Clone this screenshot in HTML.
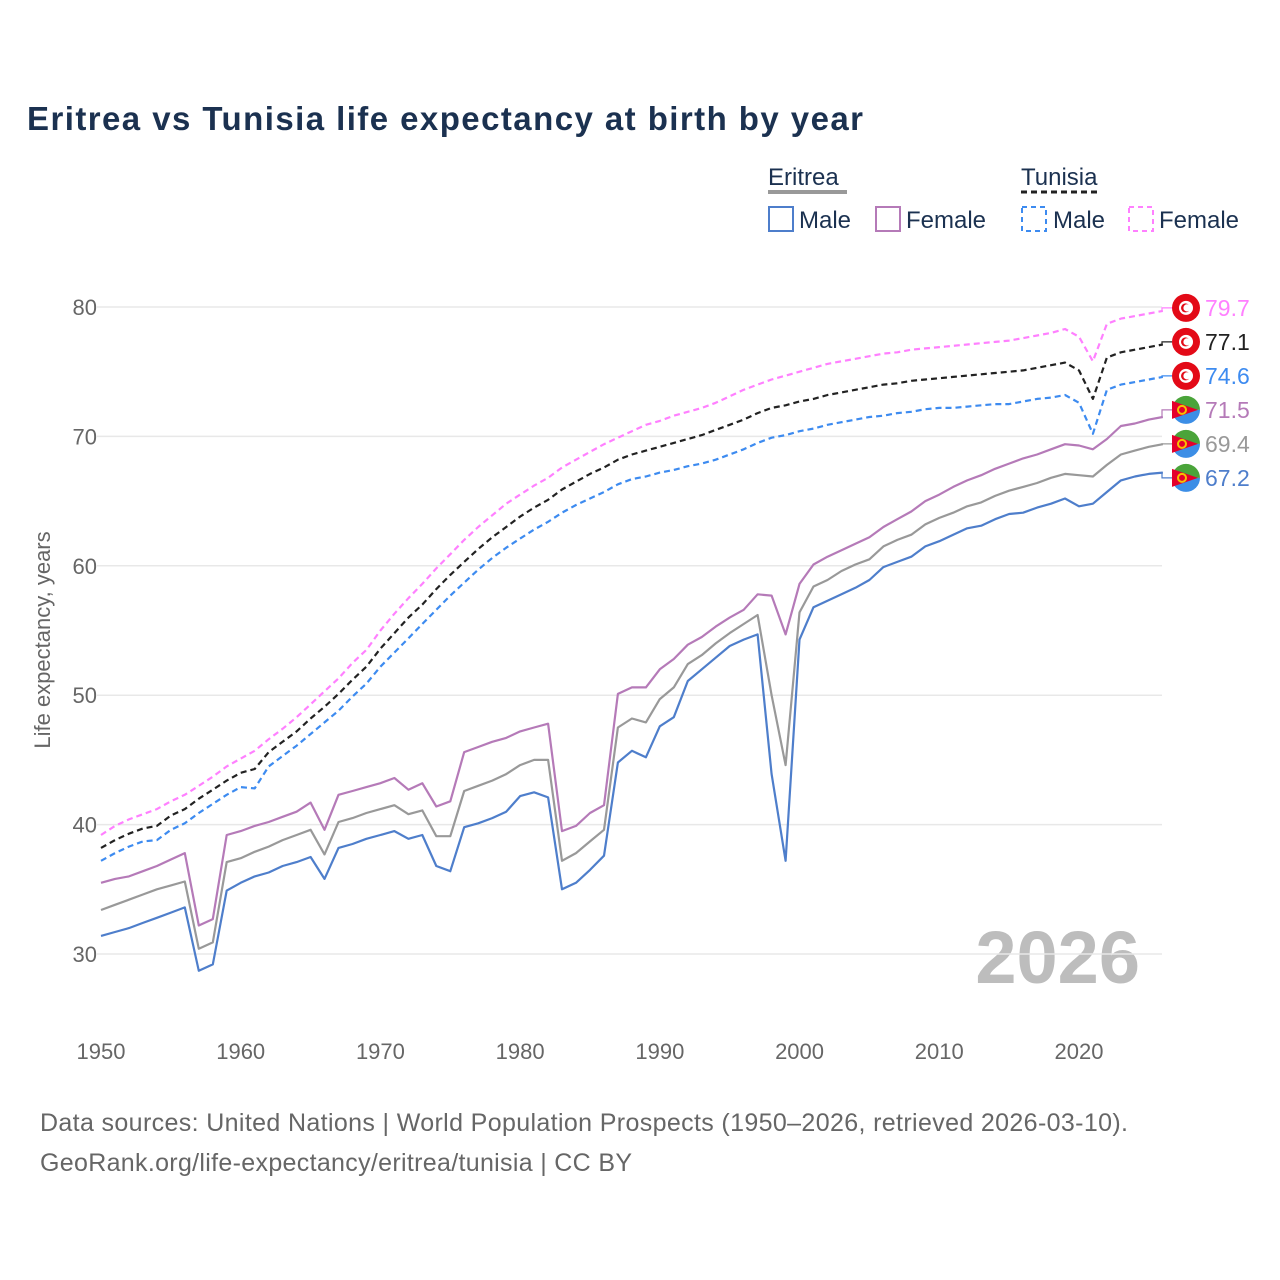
<!DOCTYPE html>
<html><head><meta charset="utf-8"><style>
body{margin:0;background:#fff;}
svg{display:block;font-family:"Liberation Sans",sans-serif;}
</style></head><body>
<svg id="chart" width="1280" height="1280" viewBox="0 0 1280 1280">
<text x="27" y="130" font-size="33" font-weight="bold" fill="#1b3150" textLength="836">Eritrea vs Tunisia life expectancy at birth by year</text>
<g>
<text x="768" y="185" font-size="24" fill="#1b3150">Eritrea</text>
<line x1="768" y1="192" x2="847" y2="192" stroke="#999" stroke-width="4"/>
<text x="1021" y="185" font-size="24" fill="#1b3150">Tunisia</text>
<line x1="1021" y1="192" x2="1101" y2="192" stroke="#222" stroke-width="3" stroke-dasharray="6,4"/>
<g><rect x="769" y="207" width="24" height="24" fill="none" stroke="#4e7ecb" stroke-width="2"/><text x="799" y="228" font-size="24" fill="#1b3150">Male</text></g>
<g><rect x="876" y="207" width="24" height="24" fill="none" stroke="#b57ab8" stroke-width="2"/><text x="906" y="228" font-size="24" fill="#1b3150">Female</text></g>
<g><rect x="1022" y="207" width="24" height="24" fill="none" stroke="#3d8bf0" stroke-width="2" stroke-dasharray="5,4"/><text x="1053" y="228" font-size="24" fill="#1b3150">Male</text></g>
<g><rect x="1129" y="207" width="24" height="24" fill="none" stroke="#ff80ff" stroke-width="2" stroke-dasharray="5,4"/><text x="1159" y="228" font-size="24" fill="#1b3150">Female</text></g>
</g>
<text x="1140" y="983" font-size="74" font-weight="bold" fill="#bdbdbd" text-anchor="end">2026</text>
<g id="grid"></g><g id="series"></g><g id="ends"></g>
<text transform="translate(50,640) rotate(-90)" font-size="22" fill="#666" text-anchor="middle">Life expectancy, years</text>
<text x="40" y="1131" font-size="25" fill="#666" textLength="1088">Data sources: United Nations | World Population Prospects (1950–2026, retrieved 2026-03-10).</text>
<text x="40" y="1171" font-size="25" fill="#666" textLength="592">GeoRank.org/life-expectancy/eritrea/tunisia | CC BY</text>
</svg>
<script>
const startYear = 1950;
const yTicks = [30,40,50,60,70,80];
const xTicks = [1950,1960,1970,1980,1990,2000,2010,2020];
const eritreaMale = [31.4,31.7,32.0,32.4,32.8,33.2,33.6,28.7,29.2,34.9,35.5,36.0,36.3,36.8,37.1,37.5,35.8,38.2,38.5,38.9,39.2,39.5,38.9,39.2,36.8,36.4,39.8,40.1,40.5,41.0,42.2,42.5,42.1,35.0,35.5,36.5,37.6,44.8,45.7,45.2,47.6,48.3,51.1,52.0,52.9,53.8,54.3,54.7,43.9,37.2,54.3,56.8,57.3,57.8,58.3,58.9,59.9,60.3,60.7,61.5,61.9,62.4,62.9,63.1,63.6,64.0,64.1,64.5,64.8,65.2,64.6,64.8,65.7,66.6,66.9,67.1,67.2];
const eritreaTotal = [33.4,33.8,34.2,34.6,35.0,35.3,35.6,30.4,30.9,37.1,37.4,37.9,38.3,38.8,39.2,39.6,37.7,40.2,40.5,40.9,41.2,41.5,40.8,41.1,39.1,39.1,42.6,43.0,43.4,43.9,44.6,45.0,45.0,37.2,37.8,38.7,39.6,47.5,48.2,47.9,49.7,50.6,52.4,53.1,54.0,54.8,55.5,56.2,50.0,44.6,56.4,58.4,58.9,59.6,60.1,60.5,61.5,62.0,62.4,63.2,63.7,64.1,64.6,64.9,65.4,65.8,66.1,66.4,66.8,67.1,67.0,66.9,67.8,68.6,68.9,69.2,69.4];
const eritreaFemale = [35.5,35.8,36.0,36.4,36.8,37.3,37.8,32.2,32.7,39.2,39.5,39.9,40.2,40.6,41.0,41.7,39.6,42.3,42.6,42.9,43.2,43.6,42.7,43.2,41.4,41.8,45.6,46.0,46.4,46.7,47.2,47.5,47.8,39.5,39.9,40.9,41.5,50.1,50.6,50.6,52.0,52.8,53.9,54.5,55.3,56.0,56.6,57.8,57.7,54.7,58.6,60.1,60.7,61.2,61.7,62.2,63.0,63.6,64.2,65.0,65.5,66.1,66.6,67.0,67.5,67.9,68.3,68.6,69.0,69.4,69.3,69.0,69.8,70.8,71.0,71.3,71.5];
const tunisiaTotal = [38.2,38.8,39.3,39.7,39.9,40.7,41.2,42.0,42.7,43.4,44.0,44.3,45.6,46.4,47.2,48.2,49.1,50.1,51.2,52.2,53.6,54.8,56.0,57.0,58.2,59.3,60.3,61.3,62.2,63.0,63.8,64.5,65.1,65.9,66.5,67.1,67.6,68.2,68.6,68.9,69.2,69.5,69.8,70.1,70.5,70.9,71.3,71.8,72.2,72.4,72.7,72.9,73.2,73.4,73.6,73.8,74.0,74.1,74.3,74.4,74.5,74.6,74.7,74.8,74.9,75.0,75.1,75.3,75.5,75.7,75.1,72.9,76.1,76.5,76.7,76.9,77.1];
const tunisiaMale = [37.2,37.8,38.3,38.7,38.8,39.6,40.1,40.9,41.6,42.3,42.9,42.8,44.5,45.3,46.1,47.0,47.9,48.8,49.9,50.9,52.2,53.3,54.4,55.5,56.6,57.7,58.7,59.7,60.6,61.4,62.1,62.8,63.4,64.1,64.7,65.2,65.7,66.3,66.7,66.9,67.2,67.4,67.7,67.9,68.2,68.6,69.0,69.5,69.9,70.1,70.4,70.6,70.9,71.1,71.3,71.5,71.6,71.8,71.9,72.1,72.2,72.2,72.3,72.4,72.5,72.5,72.7,72.9,73.0,73.2,72.6,70.2,73.6,74.0,74.2,74.4,74.6];
const tunisiaFemale = [39.2,39.9,40.4,40.8,41.2,41.8,42.3,43.0,43.7,44.5,45.1,45.7,46.6,47.4,48.3,49.3,50.3,51.3,52.5,53.5,55.0,56.3,57.5,58.6,59.8,60.9,62.0,63.0,63.9,64.8,65.5,66.2,66.8,67.6,68.2,68.8,69.4,69.9,70.4,70.9,71.2,71.6,71.9,72.2,72.6,73.1,73.6,74.0,74.4,74.7,75.0,75.3,75.6,75.8,76.0,76.2,76.4,76.5,76.7,76.8,76.9,77.0,77.1,77.2,77.3,77.4,77.6,77.8,78.0,78.3,77.7,75.8,78.7,79.1,79.3,79.5,79.7];

const NS='http://www.w3.org/2000/svg';
function xs(year){return 101+(year-1950)*13.971;}
function ys(v){return 954-(v-30)*12.94;}
function mk(tag,attrs,parent){const e=document.createElementNS(NS,tag);for(const k in attrs)e.setAttribute(k,attrs[k]);parent.appendChild(e);return e;}
const grid=document.getElementById('grid'), ser=document.getElementById('series'), ends=document.getElementById('ends');
yTicks.forEach(t=>{
  const l=mk('line',{x1:97,x2:1162,y1:ys(t),y2:ys(t),stroke:'#e8e8e8','stroke-width':1.5},grid);
  
  
  const tx=mk('text',{x:97,y:ys(t)+8,'font-size':22,fill:'#666','text-anchor':'end'},grid);
  tx.textContent=t;
  
  
});
xTicks.forEach(t=>{
  const tx=mk('text',{x:xs(t),y:1059,'font-size':22,fill:'#666','text-anchor':'middle'},grid);
  tx.textContent=t;
  
  
});
const series=[
 {d:tunisiaFemale,c:'#ff80ff',dash:'6,4',name:'tunisia-female',flag:'tn'},
 {d:tunisiaTotal,c:'#222222',dash:'6,4',name:'tunisia-total',flag:'tn',lc:'#222'},
 {d:tunisiaMale,c:'#3d8bf0',dash:'6,4',name:'tunisia-male',flag:'tn'},
 {d:eritreaFemale,c:'#b57ab8',dash:null,name:'eritrea-female',flag:'er'},
 {d:eritreaTotal,c:'#999999',dash:null,name:'eritrea-total',flag:'er'},
 {d:eritreaMale,c:'#4e7ecb',dash:null,name:'eritrea-male',flag:'er'}
];
const topY=ys(Math.max(...series.map(s=>s.d[s.d.length-1])))-3;
series.forEach((s,i)=>{
  const pts=s.d.map((v,j)=>xs(startYear+j).toFixed(1)+','+ys(v).toFixed(1)).join(' ');
  const a={points:pts,fill:'none',stroke:s.c,'stroke-width':2.2,'stroke-linejoin':'round'};
  if(s.dash)a['stroke-dasharray']=s.dash;
  const p=mk('polyline',a,ser);
  
  
  const last=s.d[s.d.length-1], lx=xs(startYear+s.d.length-1), ly=ys(last);
  const sy=topY+34*i;
  mk('polyline',{points:`${lx},${ly} 1162,${ly} 1162,${sy} 1172,${sy}`,fill:'none',stroke:s.c,'stroke-width':1.2},ends);
  const g=mk('g',{},ends);
  
  
  const cx=1186;
  if(s.flag==='tn'){
    mk('circle',{cx:cx,cy:sy,r:14,fill:'#e30a17'},g);
    mk('circle',{cx:cx,cy:sy,r:7,fill:'#fff'},g);
    mk('circle',{cx:cx-0.5,cy:sy,r:4.5,fill:'#e30a17'},g);
    mk('circle',{cx:cx+1,cy:sy,r:3.6,fill:'#fff'},g);
  }else{
    mk('path',{d:`M${cx-14},${sy} A14,14 0 0 1 ${cx+14},${sy} Z`,fill:'#4aa43a'},g);
    mk('path',{d:`M${cx-14},${sy} A14,14 0 0 0 ${cx+14},${sy} Z`,fill:'#3c8ee6'},g);
    mk('path',{d:`M${cx-14},${sy-9} L${cx+12},${sy} L${cx-14},${sy+9} Z`,fill:'#e4002b'},g);
    mk('circle',{cx:cx-4,cy:sy,r:4,fill:'none',stroke:'#f6c200','stroke-width':2},g);
  }
  const t=mk('text',{x:1205,y:sy+8,'font-size':23,fill:s.lc||s.c},ends);
  t.textContent=last.toFixed(1);
  
  
});
</script>
</body></html>
